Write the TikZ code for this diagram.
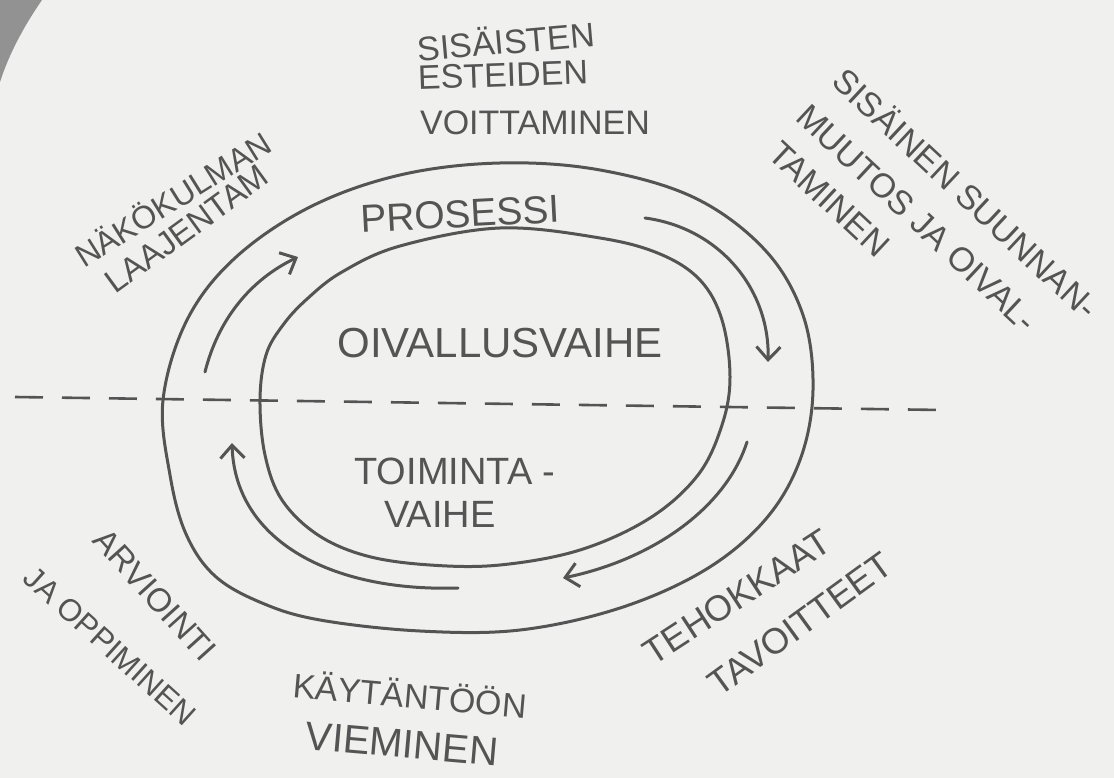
\documentclass[tikz,border=0pt]{standalone}
\usepackage{fontspec}
\setmainfont{Liberation Sans}
\usetikzlibrary{arrows.meta}
\definecolor{inkc}{HTML}{545454}
\definecolor{paper}{HTML}{F0F0EF}
\definecolor{curl}{HTML}{929292}
\newcommand\fs[1]{\fontsize{#1}{#1}\selectfont}
\tikzset{
  ink/.style={draw=inkc, line width=3pt, line cap=round, line join=round},
  flow/.style={ink, -{Straight Barb[length=13pt,width=24pt,line width=3pt]}},
  lbl/.style={text=inkc, inner sep=0pt},
  divider/.style={draw=inkc, line width=2.6pt, dash pattern=on 28pt off 19pt},
}
\begin{document}
\begin{tikzpicture}[x=1pt,y=-1pt]
\useasboundingbox (0,0) rectangle (1114,778);
\fill[paper] (0,0) rectangle (1114,778);
\fill[curl] (0,0) -- (42,0) .. controls (24,26) and (9,54) .. (0,82) -- cycle;

% outer ring
\draw[ink] plot[smooth cycle, tension=0.6] coordinates {
 (163,400) (187,320) (235,258) (310,207) (400,175) (500,163) (600,170)
 (695,198) (765,250) (803,315) (813,390) (800,460) (765,520) (705,570)
 (620,608) (520,630) (420,631) (320,620) (262,603) (215,576) (186,534)
 (170,475)};
% inner ring
\draw[ink] plot[smooth cycle, tension=0.6] coordinates {
 (260,400) (266,355) (283,325) (307,299) (342,272) (400,246) (500,228)
 (600,238) (660,254) (700,280) (722,320) (730,377) (722,425) (698,475)
 (650,518) (580,550) (500,565) (430,565) (367,556) (318,535) (282,500)
 (265,455)};

% divider
\coordinate (dl) at (15,397);
\coordinate (dr) at (942,410);
\draw[divider] (dl) -- (dr);

% flow arrows
\coordinate (a1s) at (205,372); \coordinate (a1e) at (298,257);
\coordinate (a2s) at (645,218); \coordinate (a2e) at (768,362);
\coordinate (a3s) at (747,442); \coordinate (a3e) at (563,578);
\coordinate (a4s) at (458,588); \coordinate (a4e) at (232,443);
\draw[flow] (a1s) .. controls (218,320) and (250,280) .. (a1e);
\draw[flow] (a2s) .. controls (720,228) and (770,290) .. (a2e);
\draw[flow] (a3s) .. controls (725,510) and (650,560) .. (a3e);
\draw[flow] (a4s) .. controls (330,592) and (235,540) .. (a4e);

% inner labels
\node[lbl, font=\fs{39}, rotate=3] (proc) at (460,214) {PROSESSI};
\node[lbl, font=\fs{42}] (oiv) at (500,343) {OIVALLUSVAIHE};
\node[lbl, font=\fs{38}] (toim) at (455,471) {TOIMINTA -};
\node[lbl, font=\fs{38}] (vaihe) at (440,514) {VAIHE};

% outer labels
\node[lbl, font=\fs{34}, rotate=5] (t1) at (506,40) {SISÄISTEN};
\node[lbl, font=\fs{34}, rotate=2] (t2) at (503,75) {ESTEIDEN};
\node[lbl, font=\fs{34}] (t3) at (535,123) {VOITTAMINEN};

\node[lbl, font=\fs{32}, rotate=32] (n1) at (172,198) {NÄKÖKULMAN};
\node[lbl, font=\fs{33}, rotate=36] (n2) at (187,229) {LAAJENTAM};

\node[lbl, font=\fs{34}, rotate=-43] (s1) at (967,192) {SISÄINEN SUUNNAN-};
\node[lbl, font=\fs{34}, rotate=-43] (s2) at (917,218) {MUUTOS JA OIVAL-};
\node[lbl, font=\fs{34}, rotate=-43] (s3) at (829,199) {TAMINEN};

\node[lbl, font=\fs{36}, rotate=33] (e1) at (737,597) {TEHOKKAAT};
\node[lbl, font=\fs{36}, rotate=36] (e2) at (800,624) {TAVOITTEET};

\node[lbl, font=\fs{34}, rotate=-5] (k1) at (410,694) {KÄYTÄNTÖÖN};
\node[lbl, font=\fs{40}, rotate=-5] (k2) at (402,744) {VIEMINEN};

\node[lbl, font=\fs{33}, rotate=-48] (r1) at (155,595) {ARVIOINTI};
\node[lbl, font=\fs{31}, rotate=-42] (r2) at (110,646) {JA OPPIMINEN};
\end{tikzpicture}
\end{document}
